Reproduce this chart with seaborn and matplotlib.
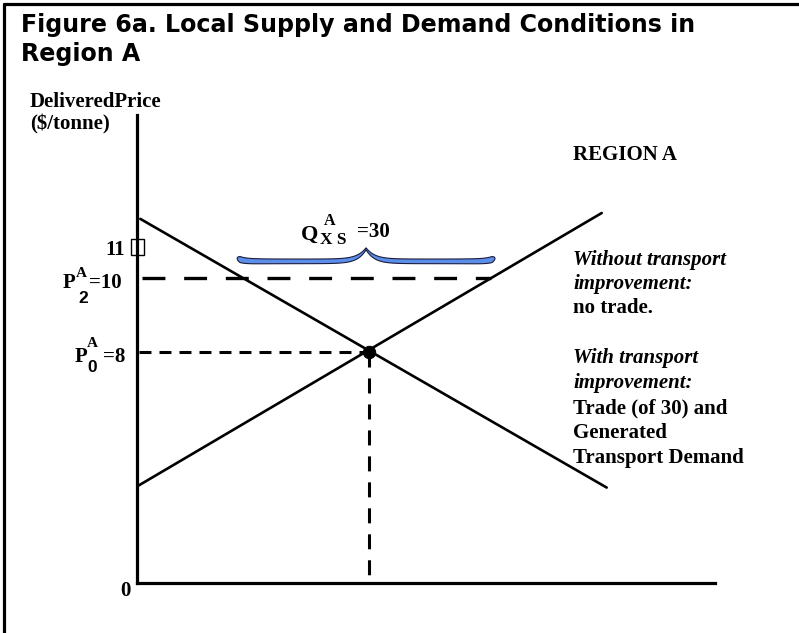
import numpy as np
import pandas as pd
import seaborn as sns
import matplotlib
matplotlib.use("Agg")
import matplotlib.pyplot as plt
from matplotlib.lines import Line2D
from matplotlib.patches import Polygon, Rectangle

# ---------------- data (schematic diagram units) ----------------
demand_q = [0.4, 56.8]
demand_p = [11.62, 4.30]
supply_q = [0.0, 56.2]
supply_p = [4.33, 11.78]
eq_q = [28.0]            # equilibrium quantity
eq_p = [8.0]             # P0 = 8
p2 = 10.0                # P2 = 10
p2_q_range = [0.6, 42.8]  # dashed P2 line extent (to supply curve)
p0_q_range = [0.3, 28.0]
trade_q = [12.1, 43.3]    # brace extent (excess supply = 30)
brace_p = 10.49
x_lim = [0, 69.9]
y_lim = [1.70, 14.45]

W, H = 799, 633
sns.set_theme(style="white")
plt.rcParams["lines.scale_dashes"] = False

fig = plt.figure(figsize=(W / 100, H / 100), dpi=100)
fig.patch.set_facecolor("white")

ax = fig.add_axes([137 / W, (H - 583) / H, (715 - 137) / W, (583 - 115) / H])
ax.set_facecolor("white")
ax.set_xlim(*x_lim)
ax.set_ylim(*y_lim)
for s in ["top", "right"]:
    ax.spines[s].set_visible(False)
for s in ["left", "bottom"]:
    ax.spines[s].set_color("black")
    ax.spines[s].set_linewidth(2.3)
ax.set_xticks([])
ax.set_yticks([])
ax.set_xlabel("")
ax.set_ylabel("")

lines_df = pd.DataFrame({
    "q": demand_q + supply_q,
    "p": demand_p + supply_p,
    "curve": ["Demand"] * 2 + ["Supply"] * 2,
})
sns.lineplot(data=lines_df, x="q", y="p", units="curve", estimator=None,
             color="black", linewidth=1.9, ax=ax, legend=False, sort=False)

# dashed guides
ax.plot(p2_q_range, [p2, p2], color="black", lw=2.4, dashes=(16.5, 13.5),
        solid_capstyle="butt", dash_capstyle="butt")
ax.plot(p0_q_range, [eq_p[0], eq_p[0]], color="black", lw=2.2, dashes=(8.6, 5.8),
        dash_capstyle="butt")
ax.plot([eq_q[0], eq_q[0]], [eq_p[0], y_lim[0]], color="black", lw=2.2,
        dashes=(10.8, 7.9), dash_capstyle="butt")

sns.scatterplot(x=eq_q, y=eq_p, s=80, color="black", edgecolor="black",
                ax=ax, zorder=5, legend=False)

# ---------------- brace ----------------
pxq = 8.27   # px per quantity unit
pxp = 36.5   # px per price unit
half = (trade_q[1] - trade_q[0]) / 2
half_px = half * pxq
s = np.linspace(0, 1, 240)
d_tip = s * half_px
d_ctr = (1 - s) * half_px
cy = 2.0 * np.exp(-d_tip / 6) - 1.0 * (1 - np.exp(-d_tip / 6)) + 12.5 * np.exp(-d_ctr / 8.5)
th = 4.6 + 1.8 * np.exp(-d_tip / 14) - 2.6 * np.exp(-d_ctr / 7)
th = th * np.sqrt(np.clip(d_tip / 3.0, 0, 1))
top_px = cy + th / 2
bot_px = cy - th / 2
xl = trade_q[0] + s * half
xr = trade_q[1] - s * half
top_y = brace_p + top_px / pxp
bot_y = brace_p + bot_px / pxp
pts = np.concatenate([
    np.column_stack([xl, top_y]),
    np.column_stack([xr[::-1], top_y[::-1]]),
    np.column_stack([xr, bot_y]),
    np.column_stack([xl[::-1], bot_y[::-1]]),
])
ax.add_patch(Polygon(pts, closed=True, facecolor="#5B8EE8", edgecolor="#1c1c40",
                     linewidth=0.8, zorder=4))

# small box next to "11"
fig.add_artist(Rectangle((131 / W, 1 - 255 / H), 13 / W, 16 / H,
                         transform=fig.transFigure, fill=False,
                         edgecolor="black", linewidth=1.0))

# ---------------- texts ----------------
SERIF = ["Liberation Serif", "DejaVu Serif"]
SANS = ["Liberation Sans", "DejaVu Sans"]


def T(x, yb, s, size, family=SERIF, weight="bold", style="normal", ha="left"):
    fig.text(x / W, 1 - yb / H, s, fontsize=size, family=family, weight=weight,
             style=style, ha=ha, va="baseline", color="black")


T(21, 32, "Figure 6a. Local Supply and Demand Conditions in", 17.1, family=["DejaVu Sans"])
T(21, 61, "Region A", 17.1, family=["DejaVu Sans"])

T(30, 107, "DeliveredPrice", 15)
T(30, 129, "($/tonne)", 15)
T(573, 160, "REGION A", 15)

T(105, 255, "11", 15)

T(63, 288, "P", 15)
T(76, 277, "A", 11)
T(78, 303, "2", 12.5, family=SANS)
T(89, 288, "=10", 15)

T(75, 362, "P", 15)
T(87, 347, "A", 11)
T(87, 372, "0", 12.5, family=SANS)
T(103, 362, "=8", 15)

T(301, 240, "Q", 16)
T(324, 225, "A", 11.5)
T(320, 244, "X S", 12.5)
T(357, 237, "=30", 15)

T(120, 596, "0", 15)

right = [
    ("Without transport", 265, "italic"),
    ("improvement:", 289, "italic"),
    ("no trade.", 313, "normal"),
    ("With transport", 363, "italic"),
    ("improvement:", 388, "italic"),
    ("Trade (of 30) and", 413, "normal"),
    ("Generated", 438, "normal"),
    ("Transport Demand", 463, "normal"),
]
for txt, yb, st in right:
    T(573, yb, txt, 15, style=st)

# frame lines (top and left)
fig.add_artist(Line2D([4 / W, 1.0], [1 - 4 / H, 1 - 4 / H], color="black", lw=2.3,
                      transform=fig.transFigure))
fig.add_artist(Line2D([4 / W, 4 / W], [0.0, 1 - 4 / H], color="black", lw=2.3,
                      transform=fig.transFigure))

fig.savefig("out.png", dpi=100, facecolor="white")
